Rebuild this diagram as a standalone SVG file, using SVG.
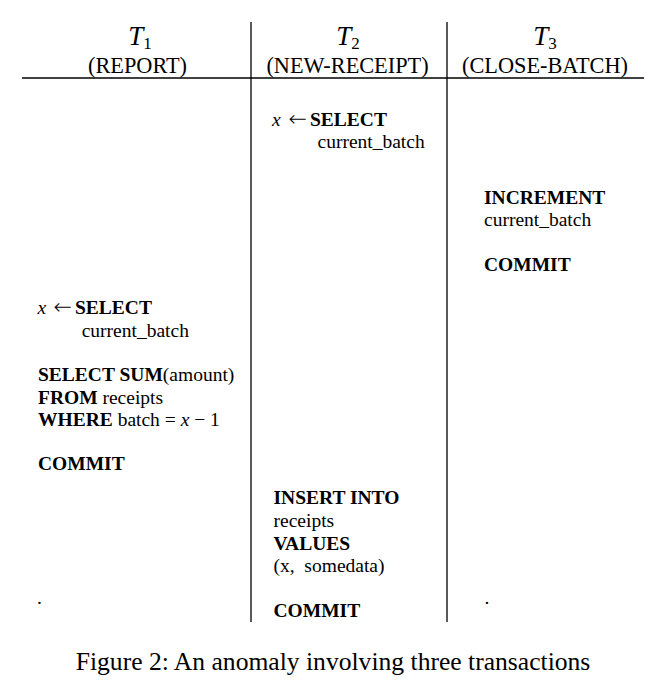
<svg xmlns="http://www.w3.org/2000/svg" width="666" height="698" viewBox="0 0 666 698">
<style>
text{font-family:"Liberation Serif","Times New Roman",serif;fill:#000}
.b{font-weight:bold}
.i{font-style:italic}
.t{font-size:19.5px}
.arr{font-family:"DejaVu Sans",sans-serif;font-size:22px;font-weight:200}
.h{font-size:27px;font-style:italic}
.sub{font-size:17px;font-style:normal}
.lab{font-size:22.3px}
.cap{font-size:25.6px}
line{stroke:#000;stroke-width:1.3}
</style>
<rect width="666" height="698" fill="#fff"/>
<g id="rules">
<line x1="22" y1="78" x2="644" y2="78"/>
<line x1="251" y1="22" x2="251" y2="622"/>
<line x1="447" y1="22" x2="447" y2="622"/>
</g>
<g id="header">
<text class="h" x="140" y="45" text-anchor="middle">T<tspan class="sub" dy="4">1</tspan></text>
<text class="lab" x="137.5" y="73" text-anchor="middle">(REPORT)</text>
<text class="h" x="348" y="45" text-anchor="middle">T<tspan class="sub" dy="4">2</tspan></text>
<text class="lab" x="347.5" y="73" text-anchor="middle">(NEW-RECEIPT)</text>
<text class="h" x="545" y="45" text-anchor="middle">T<tspan class="sub" dy="4">3</tspan></text>
<text class="lab" x="545" y="73" text-anchor="middle">(CLOSE-BATCH)</text>
</g>
<g id="t2-select">
<text class="t" y="126"><tspan class="i" x="272">x</tspan><tspan class="arr" x="288.5">←</tspan><tspan class="b" x="310">SELECT</tspan></text>
<text class="t" x="317.5" y="148">current_batch</text>
</g>
<g id="t3-increment">
<text class="t b" x="484" y="204">INCREMENT</text>
<text class="t" x="484" y="226">current_batch</text>
<text class="t b" x="484" y="271">COMMIT</text>
</g>
<g id="t1-report">
<text class="t" y="314"><tspan class="i" x="37.5">x</tspan><tspan class="arr" x="53.5">←</tspan><tspan class="b" x="75">SELECT</tspan></text>
<text class="t" x="81.7" y="337">current_batch</text>
<text class="t" x="38" y="381"><tspan class="b">SELECT SUM</tspan>(amount)</text>
<text class="t" x="38" y="404"><tspan class="b">FROM</tspan> receipts</text>
<text class="t" x="38" y="426"><tspan class="b">WHERE</tspan> batch = <tspan class="i">x</tspan> − 1</text>
<text class="t b" x="38" y="470">COMMIT</text>
<text class="t" x="37" y="604">.</text>
</g>
<g id="t2-insert">
<text class="t b" x="273.5" y="504">INSERT INTO</text>
<text class="t" x="273.5" y="527">receipts</text>
<text class="t b" x="273.5" y="550">VALUES</text>
<text class="t" x="273.5" y="572" xml:space="preserve">(x,  somedata)</text>
<text class="t b" x="273.5" y="617">COMMIT</text>
</g>
<g id="t3-end">
<text class="t" x="484.5" y="604">.</text>
</g>
<g id="caption">
<text class="cap" x="333" y="670" text-anchor="middle">Figure 2: An anomaly involving three transactions</text>
</g>
</svg>
